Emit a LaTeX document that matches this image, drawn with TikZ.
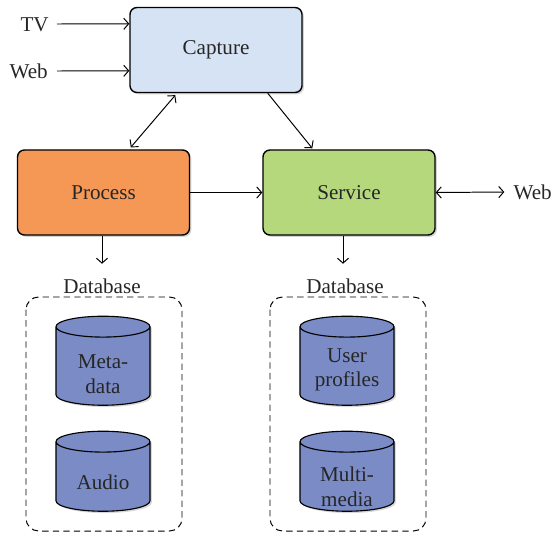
\documentclass[tikz,border=0pt]{standalone}
\usepackage{fontspec}
\setmainfont{Liberation Serif}
\usetikzlibrary{shapes.geometric,shadows,calc,arrows.meta}

\definecolor{captureblue}{RGB}{214,227,244}
\definecolor{processorange}{RGB}{245,152,86}
\definecolor{servicegreen}{RGB}{181,216,125}
\definecolor{dbblue}{RGB}{122,139,198}

\tikzset{
	txt/.style={font=\fontsize{15}{17.5}\selectfont, text=black!85},
	block/.style={txt, draw, line width=1pt, rounded corners=5pt,
		minimum width=4.3cm, minimum height=2.125cm,
		drop shadow={shadow xshift=1.3pt, shadow yshift=-1.3pt, opacity=0.35}},
	db/.style={txt, cylinder, shape border rotate=90, aspect=0.55, draw, line width=0.8pt,
		fill=dbblue, minimum width=2.35cm, inner sep=1pt,
		drop shadow={shadow xshift=1.3pt, shadow yshift=-1.3pt, opacity=0.3}},
	link/.style={line width=0.7pt, >={Straight Barb[length=3.5pt,width=8pt]}},
	dbgroup/.style={line width=0.7pt, dash pattern=on 4.5pt off 3pt, rounded corners=9pt}
}

\begin{document}
\begin{tikzpicture}[x=0.025cm, y=-0.025cm]
	\useasboundingbox (0,0) rectangle (554,535);

	% main blocks
	\node[block, fill=captureblue] (capture) at (216,50) {Capture};
	\node[block, fill=processorange] (process) at (103.5,192.5) {Process};
	\node[block, fill=servicegreen] (service) at (349,192.5) {Service};

	% inputs
	\node[txt, anchor=east, inner sep=0pt] (tv) at (49,25) {TV};
	\node[txt, anchor=east, inner sep=0pt] (webin) at (48,71) {Web};
	\draw[link, ->] ($(tv.east)+(8,-1)$) -- ($(capture.north west)+(0,17)$);
	\draw[link, ->] ($(webin.east)+(9,0)$) -- ($(capture.north west)+(0,64)$);

	\draw[link, <->] ($(capture.south west)+(46,2)$) -- ($(process.north west)+(114,-2)$); % capture - process
	\draw[link, ->] ($(capture.south east)+(-35,0)$) -- ($(service.north west)+(50,-1)$); % capture - service
	\draw[link, ->] (process.east) -- (service.west);

	\node[txt, anchor=east, inner sep=0pt] (webout) at (552,192) {Web};
	\draw[link, <->] (service.east) -- ($(webout.west)+(-9,0)$);

	% databases
	\node[txt] (dbproc) at (102,286) {Database};
	\node[txt] (dbserv) at (345,286) {Database};
	\draw[link, ->] ($(process.south)+(-1.5,0)$) -- ($(process.south)+(-1.5,28)$);
	\draw[link, ->] ($(service.south)+(-6,0)$) -- ($(service.south)+(-6,28)$);

	\draw[dbgroup] (26,297) rectangle (182,531);
	\draw[dbgroup] (270,297) rectangle (426,531);

	\node[db, minimum height=2.225cm] (meta) at (103,367.5) {\phantom{data}};
	\node[db, minimum height=2cm] (audio) at (103,478) {\phantom{data}};
	\node[db, minimum height=2.225cm] (users) at (347,367.5) {\phantom{data}};
	\node[db, minimum height=2cm] (media) at (347,478) {\phantom{data}};

	\node[txt, align=center] (metatext) at (103,374) {Meta-\\data};
	\node[txt] (audiotext) at (103,482) {Audio};
	\node[txt, align=center] (userstext) at (347,370) {User\\profiles};
	\node[txt, align=center] (mediatext) at (347,487) {Multi-\\media};
\end{tikzpicture}
\end{document}
